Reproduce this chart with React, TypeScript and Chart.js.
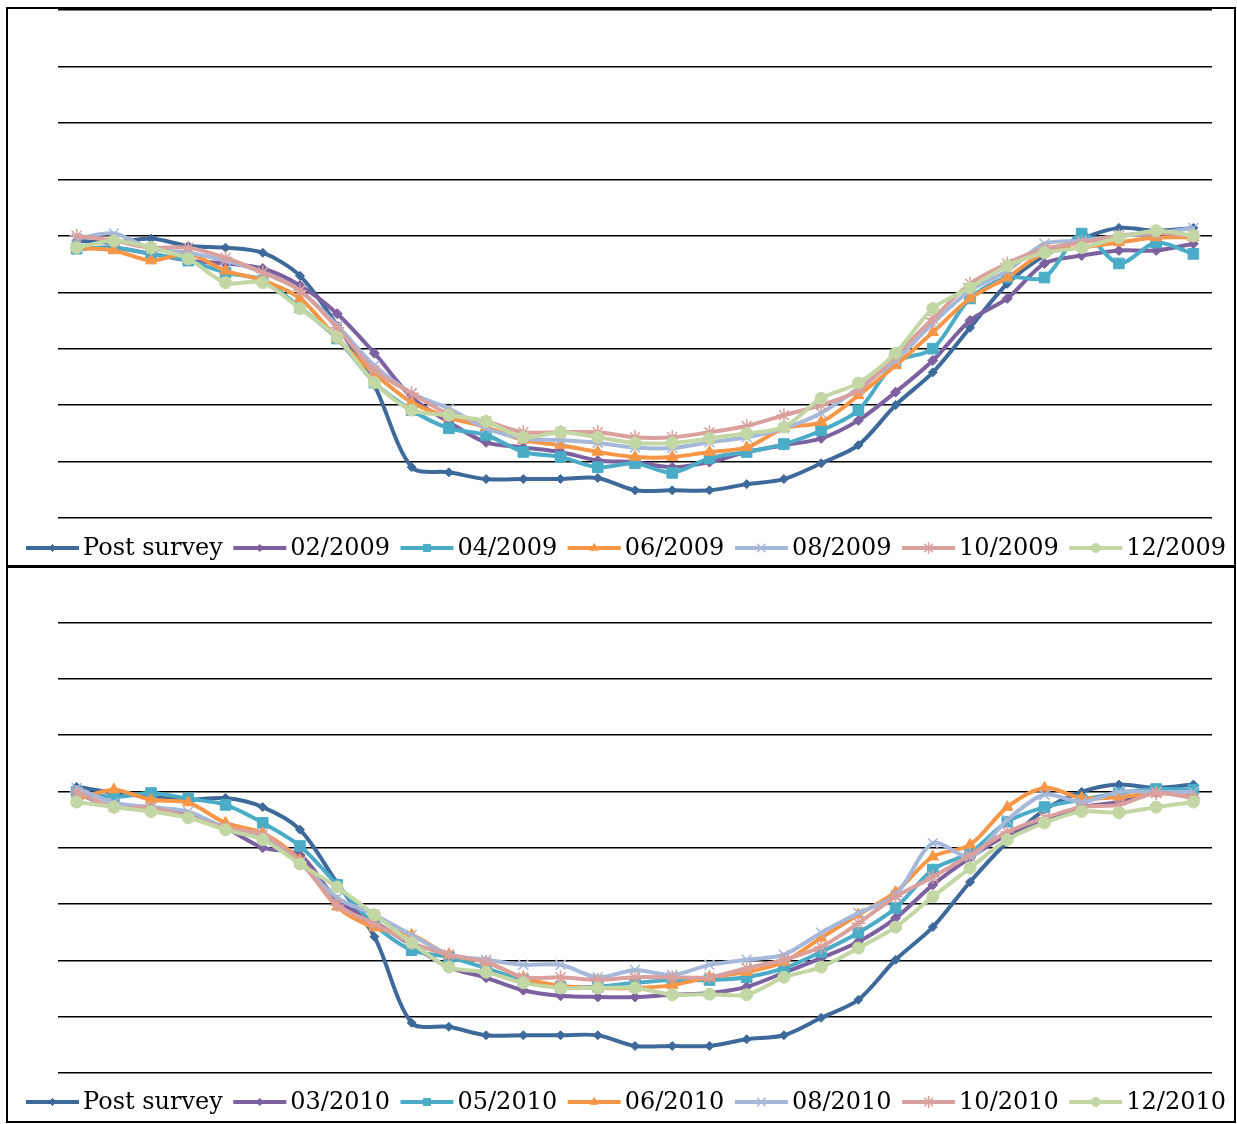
import React, { useEffect, useRef } from 'react';
import { Chart, registerables } from 'chart.js';
import { drawPoint } from 'chart.js/helpers';

Chart.register(...registerables);

// ---------- data ----------
const categories = Array.from({ length: 31 }, (_, i) => String(i + 1));

const labelsTop = ['Post survey', '02/2009', '04/2009', '06/2009', '08/2009', '10/2009', '12/2009'];
const labelsBottom = ['Post survey', '03/2010', '05/2010', '06/2010', '08/2010', '10/2010', '12/2010'];

const postSurveyTop = [49.1, 48.8, 49.5, 48.2, 47.9, 47.0, 42.9, 34.1, 23.5, 9.0, 8.1, 6.9, 6.9, 6.9, 7.1, 4.9, 4.9, 4.9, 6.0, 6.9, 9.7, 12.9, 20.0, 25.8, 33.7, 41.5, 46.5, 49.5, 51.4, 50.9, 51.4];
const s022009 = [47.7, 47.9, 46.8, 45.6, 45.1, 44.2, 41.2, 36.2, 29.2, 21.4, 17.0, 13.4, 12.5, 11.7, 10.2, 9.9, 9.0, 9.9, 11.7, 12.9, 14.1, 17.3, 22.3, 27.9, 35.0, 38.9, 45.1, 46.5, 47.4, 47.4, 48.6];
const s042009 = [47.7, 47.9, 46.8, 45.6, 43.5, 42.1, 37.3, 31.8, 24.0, 19.1, 15.9, 14.7, 11.7, 10.8, 9.0, 9.7, 8.0, 10.6, 11.7, 13.1, 15.5, 19.1, 27.6, 30.0, 38.9, 42.6, 42.6, 50.4, 45.1, 48.8, 46.8];
const s062009 = [47.9, 47.4, 45.6, 46.8, 43.8, 42.1, 38.9, 31.8, 25.6, 20.5, 17.8, 16.1, 13.8, 12.9, 11.7, 10.8, 10.8, 11.7, 12.5, 15.9, 17.0, 21.7, 27.0, 32.9, 38.9, 42.6, 47.0, 47.9, 48.8, 49.7, 49.7];
const s082009 = [49.5, 50.4, 47.7, 47.0, 45.6, 43.5, 40.3, 34.1, 27.0, 22.1, 19.4, 15.9, 14.1, 13.8, 13.3, 12.5, 12.4, 13.4, 14.3, 15.9, 18.6, 23.0, 27.9, 34.5, 40.3, 43.8, 48.6, 49.1, 50.0, 50.4, 51.4];
const s102009 = [50.0, 49.1, 47.9, 47.9, 46.1, 43.5, 40.3, 33.7, 26.2, 22.1, 18.4, 17.1, 15.2, 15.2, 15.2, 14.3, 14.3, 15.2, 16.3, 18.2, 20.0, 22.6, 28.8, 35.3, 41.5, 45.1, 47.7, 48.8, 50.0, 50.5, 50.0];
const s122009 = [47.9, 49.1, 47.9, 45.9, 41.7, 41.7, 37.1, 32.0, 24.0, 19.1, 18.2, 17.1, 14.3, 15.2, 14.3, 13.3, 13.3, 14.1, 15.0, 16.1, 21.2, 23.9, 29.2, 37.1, 40.8, 44.7, 47.0, 47.9, 49.7, 50.9, 50.0];

const postSurveyBottom = [50.8, 49.7, 49.0, 48.5, 48.8, 47.2, 43.2, 33.7, 24.2, 8.9, 8.2, 6.7, 6.7, 6.7, 6.7, 4.8, 4.8, 4.8, 6.0, 6.7, 9.8, 13.0, 20.1, 25.9, 33.9, 41.0, 46.7, 49.9, 51.2, 50.6, 51.2];
const s032010 = [49.7, 47.2, 47.1, 45.8, 43.5, 40.0, 38.7, 30.7, 26.8, 22.7, 18.8, 16.9, 14.7, 13.7, 13.5, 13.5, 13.9, 14.2, 15.3, 17.8, 20.4, 23.3, 27.5, 33.4, 38.2, 42.3, 44.9, 47.2, 48.1, 49.7, 49.7];
const s052010 = [49.9, 49.0, 49.7, 48.7, 47.6, 44.4, 40.3, 33.4, 26.3, 21.8, 20.6, 18.6, 16.5, 15.3, 15.3, 16.0, 16.5, 16.5, 17.0, 18.6, 21.5, 24.9, 29.3, 36.1, 39.1, 44.6, 47.2, 48.5, 49.7, 50.4, 50.3];
const s062010 = [48.5, 50.3, 48.5, 48.0, 44.4, 42.6, 37.8, 29.5, 25.8, 24.5, 21.0, 19.7, 16.9, 15.5, 15.1, 15.1, 15.6, 17.0, 17.9, 19.7, 24.0, 28.1, 32.1, 38.4, 40.5, 47.2, 50.6, 48.8, 49.0, 49.7, 49.0];
const s082010 = [50.6, 48.0, 47.2, 46.4, 43.5, 41.7, 37.3, 31.1, 28.1, 24.5, 21.0, 20.1, 19.2, 19.2, 17.0, 18.3, 17.4, 19.2, 20.1, 21.0, 24.9, 28.4, 31.6, 40.8, 38.4, 44.9, 49.4, 48.1, 49.9, 49.9, 49.9];
const s102010 = [49.9, 47.2, 47.1, 45.5, 43.5, 42.3, 37.5, 29.8, 26.5, 23.1, 21.0, 19.7, 17.0, 17.0, 16.5, 17.0, 17.0, 17.0, 18.6, 20.1, 22.4, 26.6, 31.3, 34.8, 38.7, 42.8, 45.3, 47.2, 47.6, 49.7, 48.8];
const s122010 = [48.1, 47.2, 46.4, 45.3, 43.2, 41.4, 37.1, 33.0, 28.1, 23.1, 18.8, 17.9, 16.0, 15.1, 15.1, 15.1, 13.9, 14.0, 13.9, 17.0, 18.8, 22.2, 25.9, 31.3, 36.4, 41.4, 44.4, 46.4, 46.2, 47.2, 48.1];

const yTicks = { min: 0, max: 90, step: 10 };

// ---------- styles ----------
const seriesStyles = [
  { color: '#3D6A9B', pointStyle: 'rectRot', radius: 4.5, legendRadius: 3.5, pbw: 1 },
  { color: '#7D60A0', pointStyle: 'rectRot', radius: 5, legendRadius: 3.5, pbw: 1 },
  { color: '#4AACC6', pointStyle: 'rect', radius: 7.5, legendRadius: 5, pbw: 1 },
  { color: '#F79646', pointStyle: 'triangle', radius: 6.5, legendRadius: 4.5, pbw: 1 },
  { color: '#A5B8DA', pointStyle: 'crossRot', radius: 7, legendRadius: 6, pbw: 1.5 },
  { color: '#D9A09E', pointStyle: 'star', radius: 7, legendRadius: 6, pbw: 1.5 },
  { color: '#C3D7A4', pointStyle: 'circle', radius: 6, legendRadius: 4.5, pbw: 1 },
];

const legendPlugin = {
  id: 'customLegend',
  afterDraw(chart: any, _args: any, opts: any) {
    const ctx = chart.ctx;
    ctx.save();
    ctx.font = '24px "DejaVu Serif"';
    const lineLen = 53;
    const gap = 4;
    const itemGap = 10.5;
    const items = chart.data.datasets.map((ds: any) => ({ ds, w: ctx.measureText(ds.label).width }));
    const total = items.reduce((s: number, it: any) => s + lineLen + gap + it.w, 0) + itemGap * (items.length - 1);
    let x = opts.centerX - total / 2;
    const y = opts.y;
    for (const it of items) {
      const ds = it.ds;
      ctx.strokeStyle = ds.borderColor;
      ctx.lineWidth = 4;
      ctx.lineCap = 'butt';
      ctx.beginPath();
      ctx.moveTo(x, y);
      ctx.lineTo(x + lineLen, y);
      ctx.stroke();
      ctx.fillStyle = ds.pointBackgroundColor;
      ctx.strokeStyle = ds.pointBorderColor;
      ctx.lineWidth = ds.pointBorderWidth;
      drawPoint(ctx, { pointStyle: ds.pointStyle, radius: ds.legendRadius, rotation: 0, borderWidth: ds.pointBorderWidth }, x + lineLen / 2, y);
      ctx.fillStyle = '#000';
      ctx.textBaseline = 'middle';
      ctx.textAlign = 'left';
      ctx.fillText(ds.label, x + lineLen + gap, y + 1);
      x += lineLen + gap + it.w + itemGap;
    }
    ctx.restore();
  },
};

function Panel(props: { labels: string[]; series: number[][]; width: number; height: number; padTop: number; padBottom: number; legendY: number }) {
  const ref = useRef<HTMLCanvasElement | null>(null);
  useEffect(() => {
    if (!ref.current) return;
    const n = props.series.length;
    const chart = new Chart(ref.current, {
      type: 'line',
      data: {
        labels: categories,
        datasets: props.series.map((d, i) => {
          const st = seriesStyles[i];
          return {
            label: props.labels[i],
            data: d,
            borderColor: st.color,
            backgroundColor: st.color,
            pointBackgroundColor: st.color,
            pointBorderColor: st.color,
            pointStyle: st.pointStyle,
            pointRadius: st.radius,
            pointBorderWidth: st.pbw,
            legendRadius: st.legendRadius,
            borderWidth: 4,
            tension: 0.3,
            fill: false,
            order: n - 1 - i,
          } as any;
        }),
      },
      options: {
        responsive: false,
        animation: false,
        events: [],
        layout: { autoPadding: false, padding: { left: 50, right: 22, top: props.padTop, bottom: props.padBottom } },
        plugins: {
          legend: { display: false },
          tooltip: { enabled: false },
          customLegend: { centerX: 618, y: props.legendY },
        } as any,
        scales: {
          x: { type: 'category', display: false, offset: true },
          y: {
            min: yTicks.min,
            max: yTicks.max,
            ticks: { stepSize: yTicks.step, display: false },
            grid: { color: '#000', lineWidth: 1.4, drawTicks: false },
            border: { display: false },
          },
        },
      },
      plugins: [legendPlugin],
    });
    return () => chart.destroy();
  }, []);
  return <canvas ref={ref} width={props.width} height={props.height} style={{ width: props.width, height: props.height, display: 'block' }} />;
}

export default function App() {
  return (
    <div style={{ position: 'absolute', left: 0, top: 0, width: 1237, height: 1124, background: '#fff' }}>
      <div style={{ position: 'absolute', left: 8, top: 9 }}>
        <Panel labels={labelsTop} series={[postSurveyTop, s022009, s042009, s062009, s082009, s102009, s122009]} width={1226} height={557} padTop={1} padBottom={48} legendY={539} />
      </div>
      <div style={{ position: 'absolute', left: 8, top: 566 }}>
        <Panel labels={labelsBottom} series={[postSurveyBottom, s032010, s052010, s062010, s082010, s102010, s122010]} width={1226} height={555} padTop={0} padBottom={48} legendY={536} />
      </div>
      <div style={{ position: 'absolute', left: 6, top: 7, width: 1230, height: 1116, border: '2px solid #000', boxSizing: 'border-box', pointerEvents: 'none' }} />
      <div style={{ position: 'absolute', left: 6, top: 565, width: 1230, height: 3, background: '#000' }} />
    </div>
  );
}
